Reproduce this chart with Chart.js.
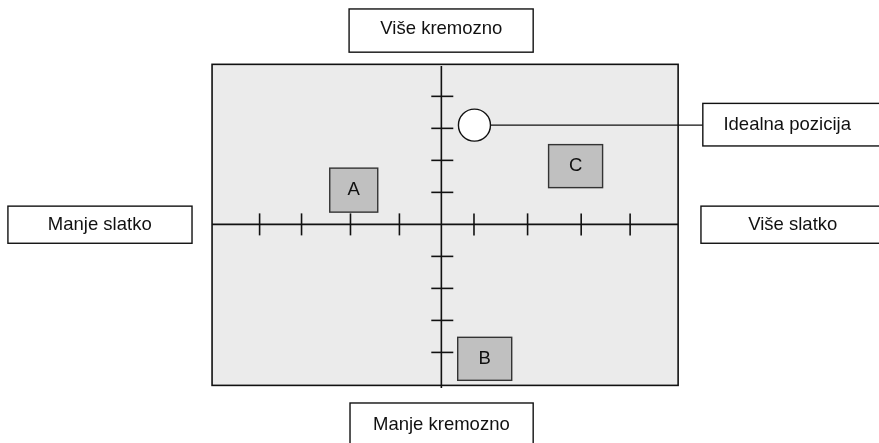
<!DOCTYPE html>
<html>
<head>
<meta charset="utf-8">
<script src="https://cdn.jsdelivr.net/npm/chart.js@4/dist/chart.umd.min.js"></script>
<style>
  html, body { margin: 0; padding: 0; background: #fff; }
  #wrap { width: 879px; height: 443px; position: relative; }
</style>
</head>
<body>
<div id="wrap"><canvas id="mapChart"></canvas></div>
<script>
// products on the perceptual map (sweetness on x, creaminess on y)
const products = ["A", "B", "C"];
const sweetness = [-1.88, 0.93, 2.88];
const creaminess = [1.07, -4.2, 1.82];

// ideal position
const idealSweetness = [0.71];
const idealCreaminess = [3.1];

// tick marks along both axes
const sweetTicks = [-3.9, -3.0, -1.95, -0.9, 0.7, 1.85, 3.0, 4.05];
const creamTicks = [-4, -3, -2, -1, 1, 2, 3, 4];

// label texts
const axisLabels = ["Više kremozno", "Manje kremozno", "Manje slatko", "Više slatko"];
const idealLabel = "Idealna pozicija";

// map frame extents in scale units
const frame = { x0: -4.92, x1: 5.08, y0: -5.03, y1: 5.0 };

// label boxes in scale units
const labelBoxes = [
    { text: axisLabels[0], x0: -1.98, x1: 1.97, y0: 6.73, y1: 5.38, tx: 0, ty: 6.1 },
    { text: axisLabels[1], x0: -1.96, x1: 1.97, y0: -5.58, y1: -7.4, tx: 0, ty: -6.25 },
    { text: axisLabels[2], x0: -9.30, x1: -5.35, y0: 0.57, y1: -0.59, tx: -7.33 },
    { text: axisLabels[3], x0: 5.57, x1: 9.9, y0: 0.57, y1: -0.59, tx: 7.54 },
    { text: idealLabel, x0: 5.61, x1: 9.9, y0: 3.78, y1: 2.45, tx: 7.42 }
];

const FONT = '18.5px "Liberation Sans", Arial, sans-serif';
const INK = "#111";

const mapPlugin = {
    id: "perceptualMap",
    beforeDatasetsDraw(chart) {
        const { ctx, scales: { x, y } } = chart;
        const l = x.getPixelForValue(frame.x0), r = x.getPixelForValue(frame.x1);
        const t = y.getPixelForValue(frame.y1), b = y.getPixelForValue(frame.y0);
        ctx.save();
        ctx.fillStyle = "#ebebeb";
        ctx.fillRect(l, t, r - l, b - t);
        ctx.lineWidth = 1.6;
        ctx.strokeStyle = INK;
        ctx.strokeRect(l, t, r - l, b - t);
        ctx.restore();
    },
    afterDatasetsDraw(chart) {
        const { ctx, scales: { x, y } } = chart;
        ctx.save();
        ctx.font = FONT;
        ctx.textAlign = "center";
        ctx.textBaseline = "middle";

        // product boxes
        for (let i = 0; i < products.length; i++) {
            const cx = x.getPixelForValue(sweetness[i]);
            const cy = y.getPixelForValue(creaminess[i]);
            const w = i === 0 ? 48 : 54, h = i === 0 ? 44 : 43;
            ctx.fillStyle = "#c0c0c0";
            ctx.fillRect(cx - w / 2, cy - h / 2, w, h);
            ctx.lineWidth = 1.4;
            ctx.strokeStyle = "#333";
            ctx.strokeRect(cx - w / 2, cy - h / 2, w, h);
            ctx.fillStyle = INK;
            ctx.fillText(products[i], cx, cy);
        }

        // label boxes
        labelBoxes.forEach(box => {
            const l = x.getPixelForValue(box.x0), r = x.getPixelForValue(box.x1);
            const t = y.getPixelForValue(box.y0), b = y.getPixelForValue(box.y1);
            ctx.fillStyle = "#fff";
            ctx.fillRect(l, t, r - l, b - t);
            ctx.lineWidth = 1.4;
            ctx.strokeStyle = INK;
            ctx.strokeRect(l, t, r - l, b - t);
            ctx.fillStyle = INK;
            const ty = box.ty !== undefined ? y.getPixelForValue(box.ty) : (t + b) / 2;
            ctx.fillText(box.text, x.getPixelForValue(box.tx), ty);
        });
        ctx.restore();
    }
};

const ctx = document.getElementById("mapChart");
new Chart(ctx, {
    type: "scatter",
    data: {
        datasets: [{
            // ideal point, drawn on top of its leader line
            data: idealSweetness.map((v, i) => ({ x: v, y: idealCreaminess[i] })),
            pointStyle: "circle", pointRadius: 16,
            backgroundColor: "#fff", borderColor: INK, borderWidth: 1.4
        }, {
            // leader line from ideal point to its label
            data: [{ x: idealSweetness[0], y: idealCreaminess[0] }, { x: labelBoxes[4].x0, y: idealCreaminess[0] }],
            showLine: true, pointRadius: 0, borderColor: INK, borderWidth: 1.4
        }, {
            data: sweetTicks.map(v => ({ x: v, y: 0 })),
            pointStyle: "line", rotation: 90, pointRadius: 11,
            borderColor: INK, borderWidth: 1.6
        }, {
            data: creamTicks.map(v => ({ x: 0.02, y: v })),
            pointStyle: "line", pointRadius: 11,
            borderColor: INK, borderWidth: 1.6
        }, {
            // horizontal axis
            data: [{ x: frame.x0, y: 0 }, { x: frame.x1, y: 0 }],
            showLine: true, pointRadius: 0, borderColor: INK, borderWidth: 1.6
        }, {
            // vertical axis
            data: [{ x: 0, y: frame.y1 - 0.05 }, { x: 0, y: frame.y0 - 0.08 }],
            showLine: true, pointRadius: 0, borderColor: INK, borderWidth: 1.6
        }]
    },
    options: {
        responsive: true,
        maintainAspectRatio: false,
        animation: false,
        layout: { padding: 0, autoPadding: false },
        plugins: { legend: { display: false }, tooltip: { enabled: false } },
        scales: {
            x: { type: "linear", min: -9.47, max: 9.39, display: false },
            y: { type: "linear", min: -6.83, max: 7.01, display: false }
        }
    },
    plugins: [mapPlugin]
});
</script>
</body>
</html>
